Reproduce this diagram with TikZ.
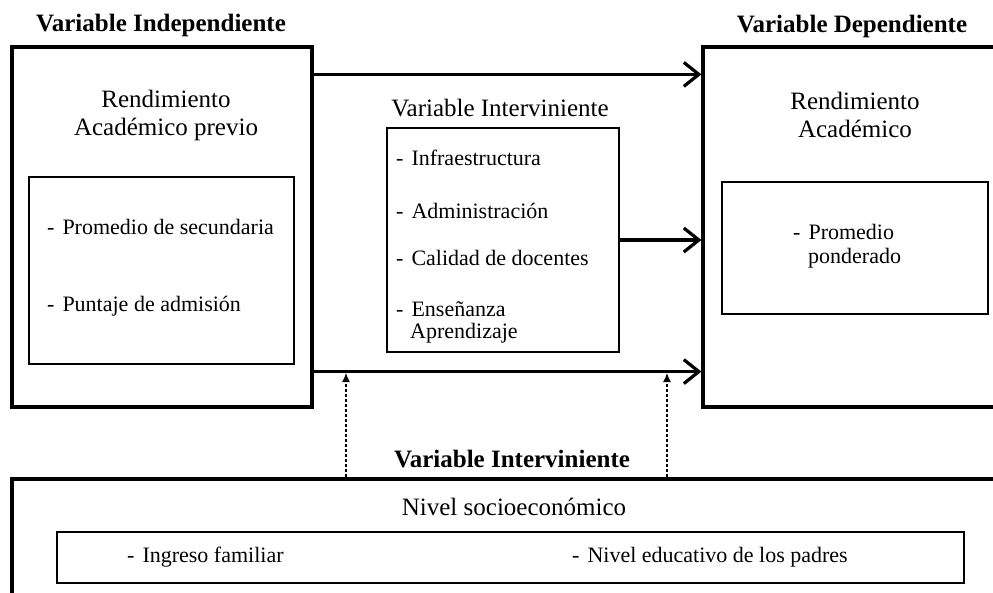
\documentclass[tikz,border=0pt]{standalone}
\usepackage{fontspec}
\setmainfont{Liberation Serif}
\usetikzlibrary{arrows.meta}

\begin{document}
\begin{tikzpicture}[x=1pt, y=-1pt,
  box/.style={draw, line width=3.2pt, inner sep=0pt},
  sub/.style={draw, line width=2.6pt, inner sep=0pt},
  lbl/.style={inner sep=0pt, anchor=base, font=\fontsize{25}{29}\selectfont},
  ttl/.style={lbl, font=\fontsize{25}{29}\selectfont\bfseries},
  itm/.style={inner sep=0pt, anchor=base west, font=\fontsize{22}{26}\selectfont},
  arr/.style={line width=3.2pt, -{Straight Barb[length=15pt, width=24pt]}},
  dotarr/.style={line width=1.2pt, dash pattern=on 3pt off 2pt, -{Latex[length=9pt, width=8pt]}}]
  \useasboundingbox (0,0) rectangle (993,592);
  \clip (0,0) rectangle (993,592);
  % boxes
  \node[box, minimum width=300, minimum height=360] (indep) at (162,227) {};
  \node[box, minimum width=300, minimum height=360] (dep) at (853,227) {};
  \node[sub, minimum width=265, minimum height=187] (indepin) at (161.5,270.5) {};
  \node[sub, minimum width=266, minimum height=132] (depin) at (855,248) {};
  \node[sub, minimum width=232, minimum height=224] (med) at (503,240) {};
  \node[box, minimum width=1002, minimum height=150] (socio) at (513,554) {};
  \node[sub, minimum width=907, minimum height=51] (socioin) at (510.5,557.5) {};
  % titles
  \node[ttl] (tIndep) at (161,31) {Variable Independiente};
  \node[ttl] (tDep) at (852,32) {Variable Dependiente};
  \node[ttl] (tSocio) at (512,467) {Variable Interviniente};
  \node[lbl] (tMed) at (500,116) {Variable Interviniente};
  \node[lbl] (rendA) at (166,107) {Rendimiento};
  \node[lbl] (rendB) at (166,135) {Académico previo};
  \node[lbl] (rendC) at (855,109) {Rendimiento};
  \node[lbl] (rendD) at (855,137) {Académico};
  \node[lbl] (nivel) at (514,515) {Nivel socioeconómico};
  % items
  \node[itm] (promSec) at (47,234) {-\hspace{8pt}Promedio de secundaria};
  \node[itm] (puntaje) at (47,311) {-\hspace{8pt}Puntaje de admisión};
  \node[itm] (infra) at (396,165) {-\hspace{8pt}Infraestructura};
  \node[itm] (admin) at (396,218) {-\hspace{8pt}Administración};
  \node[itm] (calidad) at (396,265) {-\hspace{8pt}Calidad de docentes};
  \node[itm] (ensen) at (396,316) {-\hspace{8pt}Enseñanza};
  \node[itm] (aprend) at (410,338) {Aprendizaje};
  \node[itm] (promPon) at (793,239) {-\hspace{8pt}Promedio};
  \node[itm] (ponder) at (808,263) {ponderado};
  \node[itm] (ingreso) at (127,562) {-\hspace{8pt}Ingreso familiar};
  \node[itm] (padres) at (572,562) {-\hspace{8pt}Nivel educativo de los padres};
  % connectors
  \draw[arr] ([yshift=-29pt]indep.north east) -- ([yshift=-29pt]dep.north west);
  \draw[arr] (med.east) -- (med.east -| dep.west);
  \draw[arr] ([yshift=37pt]indep.south east) -- ([yshift=37pt]dep.south west);
  \coordinate (upA) at (346,373);
  \coordinate (upB) at (667,373);
  \draw[dotarr] (upA |- socio.north) -- (upA);
  \draw[dotarr] (upB |- socio.north) -- (upB);
\end{tikzpicture}
\end{document}
